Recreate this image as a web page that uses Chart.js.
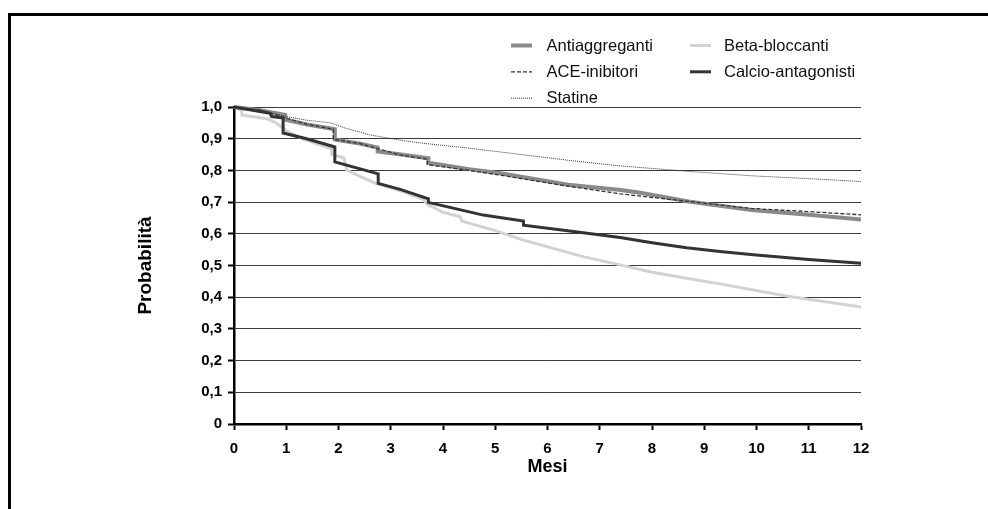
<!DOCTYPE html>
<html><head><meta charset="utf-8">
<script src="https://cdn.jsdelivr.net/npm/chart.js@4.4.1/dist/chart.umd.min.js"></script>
<style>
html,body{margin:0;padding:0;background:#fff;overflow:hidden;}
#wrap{position:relative;width:988px;height:509px;overflow:hidden;}
#frame{position:absolute;left:8px;top:13px;width:1000px;height:600px;border-top:3px solid #000;border-left:3px solid #000;box-sizing:border-box;}
canvas{position:absolute;left:0;top:0;}
</style></head><body>
<div id="wrap"><div id="frame"></div><canvas id="c" width="988" height="509"></canvas></div>
<script>
// ---- data (months, survival probability) ----
const xTickLabels = ['0','1','2','3','4','5','6','7','8','9','10','11','12'];
const yTickLabels = ['0','0,1','0,2','0,3','0,4','0,5','0,6','0,7','0,8','0,9','1,0'];
const legendLabels = ['Antiaggreganti','Beta-bloccanti','ACE-inibitori','Calcio-antagonisti','Statine'];

const antiMesi = [0, 0.5, 0.98, 0.98, 1.4, 1.93, 1.93, 2.4, 2.75, 2.75, 3.2, 3.72, 3.72, 4.5, 5.1, 6.4, 7.4, 7.75, 8.7, 9.9, 11, 12];
const antiProb = [1.0, 0.99, 0.975, 0.96, 0.945, 0.93, 0.897, 0.885, 0.872, 0.86, 0.85, 0.838, 0.824, 0.804, 0.791, 0.755, 0.738, 0.730, 0.702, 0.675, 0.66, 0.645];

const aceMesi = [0, 0.5, 1.0, 1.4, 1.9, 1.9, 2.4, 2.8, 3.2, 3.7, 3.7, 4.5, 5.1, 6.4, 7.4, 8.7, 9.9, 11, 12];
const aceProb = [1.0, 0.99, 0.965, 0.945, 0.93, 0.898, 0.885, 0.866, 0.848, 0.835, 0.818, 0.800, 0.785, 0.75, 0.726, 0.702, 0.68, 0.67, 0.66];

const statMesi = [0, 0.5, 1.0, 1.4, 1.85, 2.1, 2.6, 3.2, 3.6, 4.5, 5.5, 6.5, 7.4, 8.7, 9.9, 11, 12];
const statProb = [1.0, 0.99, 0.97, 0.958, 0.95, 0.935, 0.912, 0.895, 0.886, 0.87, 0.85, 0.83, 0.814, 0.797, 0.783, 0.774, 0.765];

const betaMesi = [0, 0.15, 0.15, 0.65, 0.8, 1.0, 1.33, 1.87, 1.87, 2.1, 2.16, 2.7, 3.2, 3.6, 3.72, 4.0, 4.33, 4.36, 5.0, 5.54, 6.68, 7.39, 8.0, 8.66, 9.3, 9.94, 10.6, 11.3, 12];
const betaProb = [1.0, 0.99, 0.975, 0.962, 0.95, 0.925, 0.898, 0.868, 0.85, 0.84, 0.80, 0.76, 0.735, 0.71, 0.691, 0.668, 0.654, 0.64, 0.61, 0.58, 0.528, 0.502, 0.479, 0.46, 0.442, 0.423, 0.403, 0.386, 0.369];

const calcMesi = [0, 0.69, 0.72, 0.94, 0.94, 1.39, 1.93, 1.93, 2.76, 2.76, 3.18, 3.72, 3.72, 4.77, 5.54, 5.54, 6.5, 7.39, 8.0, 8.66, 9.3, 9.94, 11, 12];
const calcProb = [1.0, 0.98, 0.97, 0.965, 0.918, 0.90, 0.874, 0.827, 0.789, 0.759, 0.74, 0.71, 0.699, 0.659, 0.64, 0.627, 0.607, 0.588, 0.572, 0.556, 0.544, 0.534, 0.519, 0.507];

const pts = (xs, ys) => xs.map((x, i) => ({x: x, y: ys[i]}));
const FONT = '"Liberation Sans", Arial, Helvetica, sans-serif';

const datasets = [
  {label: 'Antiaggreganti', data: pts(antiMesi, antiProb), borderColor: '#8a8a8a', borderWidth: 4, order: 3},
  {label: 'ACE-inibitori', data: pts(aceMesi, aceProb), borderColor: '#333333', borderWidth: 1.3, borderDash: [4, 2], order: 0},
  {label: 'Statine', data: pts(statMesi, statProb), borderColor: '#333333', borderWidth: 1, borderDash: [1, 1], order: 1},
  {label: 'Beta-bloccanti', data: pts(betaMesi, betaProb), borderColor: '#d2d2d2', borderWidth: 3, order: 4},
  {label: 'Calcio-antagonisti', data: pts(calcMesi, calcProb), borderColor: '#333333', borderWidth: 3, order: 2}
].map(d => Object.assign({pointRadius: 0, fill: false, tension: 0, clip: 8, borderCapStyle: 'butt'}, d));

const legendPlugin = {
  id: 'customLegend',
  afterDraw(chart) {
    const ctx = chart.ctx;
    legendLabels.forEach((lbl, i) => {
      const ds = chart.data.datasets.find(d => d.label === lbl);
      const col = i % 2, row = Math.floor(i / 2);
      const x0 = col === 0 ? 511 : 690;
      const y = 45.5 + row * 26.3;
      ctx.save();
      ctx.strokeStyle = ds.borderColor;
      ctx.lineWidth = ds.borderWidth;
      ctx.setLineDash(ds.borderDash || []);
      ctx.beginPath(); ctx.moveTo(x0, y); ctx.lineTo(x0 + 21, y); ctx.stroke();
      ctx.setLineDash([]);
      ctx.fillStyle = '#111';
      ctx.font = '16.5px ' + FONT;
      ctx.textBaseline = 'middle';
      ctx.textAlign = 'left';
      ctx.fillText(ds.label, x0 + (col === 0 ? 35.5 : 34), y + 0.5);
      ctx.restore();
    });
  }
};

new Chart(document.getElementById('c'), {
  type: 'line',
  data: {datasets: datasets},
  plugins: [legendPlugin],
  options: {
    responsive: false,
    animation: false,
    layout: {padding: {left: 128, right: 127, top: 107, bottom: 30}},
    plugins: {legend: {display: false}, tooltip: {enabled: false}},
    scales: {
      x: {
        type: 'linear', min: 0, max: 12,
        afterFit(s) { s.height = 55; },
        ticks: {stepSize: 1, color: '#000', padding: 10, maxRotation: 0,
          font: {family: FONT, size: 15, weight: 'bold'},
          callback: (v) => xTickLabels[Math.round(v)]},
        grid: {drawOnChartArea: false, drawTicks: true, tickLength: 6, tickColor: '#000', tickWidth: 2},
        border: {display: true, color: '#000', width: 2.5},
        title: {display: true, text: 'Mesi', color: '#000', padding: {top: 0, bottom: 1},
          font: {family: FONT, size: 18, weight: 'bold'}}
      },
      y: {
        type: 'linear', min: 0, max: 1,
        afterFit(s) { s.width = 106; },
        ticks: {stepSize: 0.1, color: '#000', padding: 6,
          font: {family: FONT, size: 15, weight: 'bold'},
          callback: (v) => yTickLabels[Math.round(v * 10)]},
        grid: {color: '#3a3a3a', lineWidth: 1, drawTicks: true, tickLength: 6, tickColor: '#000', tickWidth: 2},
        border: {display: true, color: '#000', width: 2.5},
        title: {display: true, text: 'Probabilità', color: '#000', padding: {top: 6, bottom: 0},
          font: {family: FONT, size: 19, weight: 'bold'}}
      }
    }
  }
});
</script>
</body></html>
